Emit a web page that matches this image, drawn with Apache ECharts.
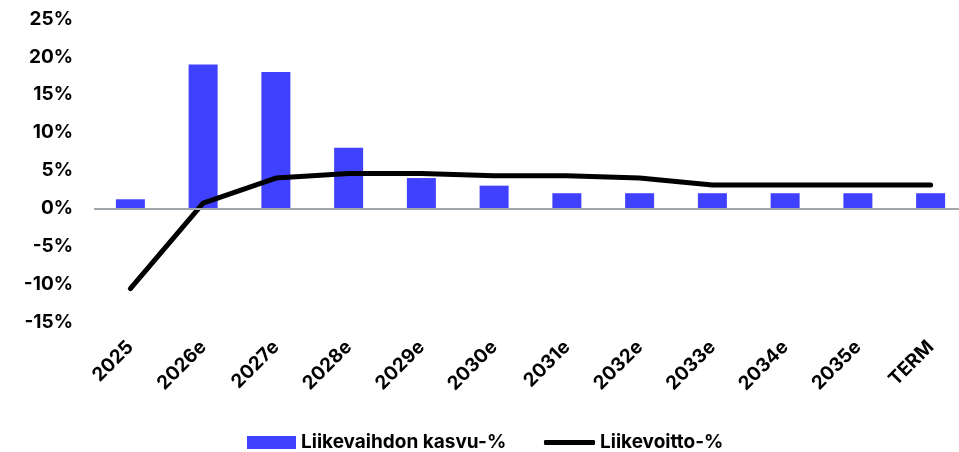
<!DOCTYPE html>
<html><head><meta charset="utf-8">
<script src="https://cdn.jsdelivr.net/npm/echarts@6/dist/echarts.min.js"></script>
<style>html,body{margin:0;padding:0;background:#fff}#c{width:959px;height:452px}</style>
</head><body><div id="c"></div>
<script>
const categories = ['2025','2026e','2027e','2028e','2029e','2030e','2031e','2032e','2033e','2034e','2035e','TERM'];
const revenueGrowth = [1.2, 19, 18, 8, 4, 3, 2, 2, 2, 2, 2, 2];
const ebitMargin = [-10.6, 0.7, 4.0, 4.6, 4.6, 4.3, 4.3, 4.0, 3.1, 3.1, 3.1, 3.1];
const yTicks = {min: -15, max: 25, interval: 5};
const seriesNames = ['Liikevaihdon kasvu-%', 'Liikevoitto-%'];

const FONT = 'Inter';
const txt = {fontFamily: FONT, fontWeight: 'bold', fontSize: 19, color: '#000'};
const chart = echarts.init(document.getElementById('c'));
chart.setOption({
  animation: false,
  grid: {left: 94, width: 873, top: 19, bottom: 130, outerBoundsMode: 'none', containLabel: false},
  legend: [
    {left: 242, top: 428, itemWidth: 49, itemHeight: 13, textStyle: txt,
      data: [{name: seriesNames[0], icon: 'rect'}]},
    {left: 539, top: 428, itemWidth: 51, itemHeight: 5, textStyle: txt,
      data: [{name: seriesNames[1], icon: 'roundRect'}]}
  ],
  xAxis: {
    type: 'category', data: categories,
    axisLine: {show: false}, axisTick: {show: false},
    axisLabel: Object.assign({rotate: 45, margin: 22, interval: 0}, txt)
  },
  yAxis: {
    type: 'value', min: yTicks.min, max: yTicks.max, interval: yTicks.interval,
    axisLine: {show: false}, axisTick: {show: false}, splitLine: {show: false},
    axisLabel: Object.assign({formatter: '{value}%', margin: 21}, txt)
  },
  series: [
    {
      name: seriesNames[0], type: 'bar', data: revenueGrowth, barWidth: 29,
      itemStyle: {color: '#4040ff'},
      markLine: {silent: true, symbol: 'none', label: {show: false},
        lineStyle: {color: '#a0a6aa', width: 2, type: 'solid'}, data: [{yAxis: 0}]}
    },
    {
      name: seriesNames[1], type: 'line', data: ebitMargin, smooth: false,
      symbol: 'none', lineStyle: {color: '#000', width: 5, cap: 'round', join: 'round'}, itemStyle: {color: '#000'}
    }
  ]
});
</script></body></html>
